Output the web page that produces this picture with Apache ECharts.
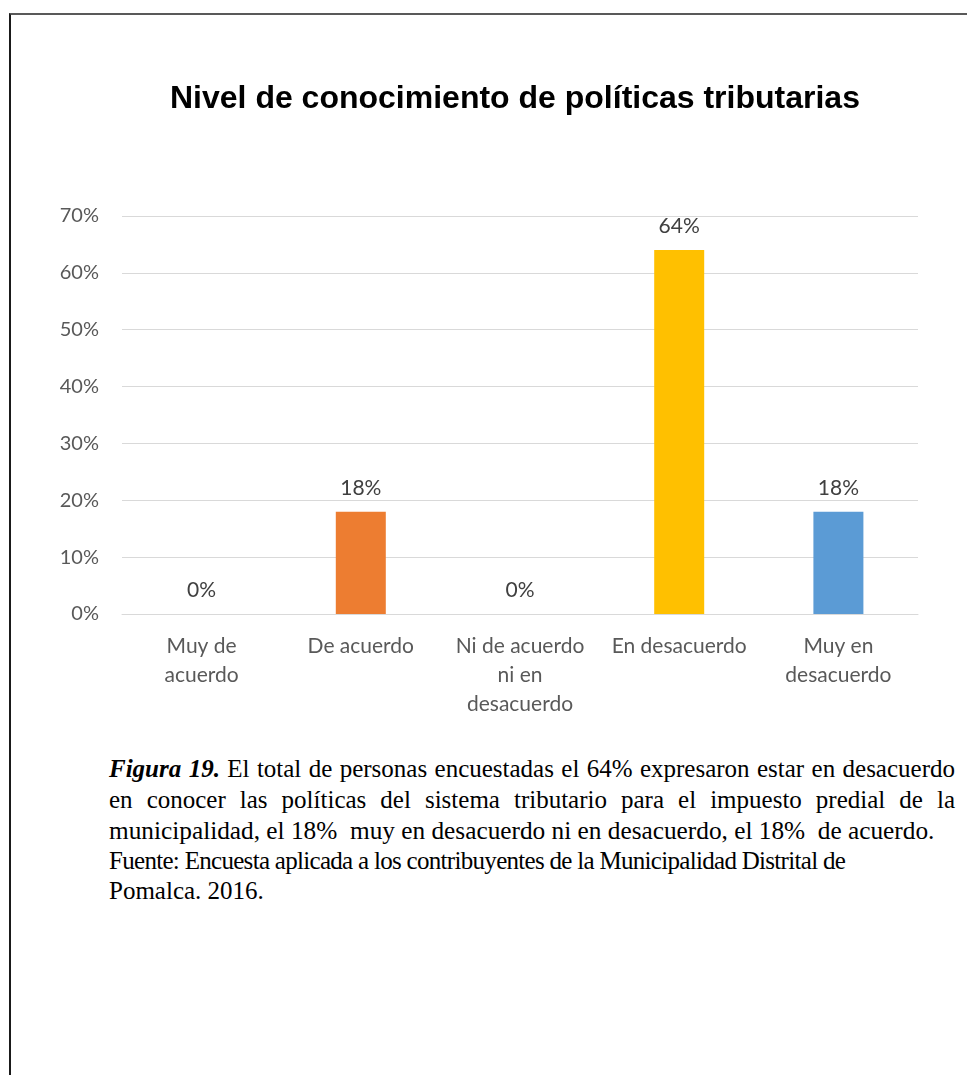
<!DOCTYPE html>
<html lang="es">
<head>
<meta charset="utf-8">
<title>Nivel de conocimiento de políticas tributarias</title>
<script src="https://cdn.jsdelivr.net/npm/echarts@6/dist/echarts.min.js"></script>
<style>
  html, body { margin: 0; padding: 0; background: #fff; }
  body { width: 967px; height: 1075px; position: relative; overflow: hidden; }
  #frame {
    position: absolute; left: 9px; top: 13px; width: 980px; height: 1100px;
    border-top: 2px solid #595959; border-left: 2px solid #1a1a1a;
  }
  #chart { position: absolute; left: 0; top: 0; width: 967px; height: 730px; }
  #caption {
    position: absolute; left: 109px; top: 754px; width: 846px;
    font-family: "Liberation Serif", "Times New Roman", serif;
    font-size: 25px; line-height: 30.5px; color: #000;
  }
  #caption .ln { white-space: nowrap; }
  #caption .just { text-align: justify; text-align-last: justify; }
  #caption .tight { letter-spacing: -0.7px; }
  #caption .l3 { font-size: 25.3px; }
</style>
</head>
<body>
<div id="frame"></div>
<div id="chart"></div>
<div id="caption">
  <div class="ln just"><b><i>Figura 19.</i></b> El total de personas encuestadas el 64% expresaron estar en desacuerdo</div>
  <div class="ln just">en conocer las políticas del sistema tributario para el impuesto predial de la</div>
  <div class="ln l3">municipalidad, el 18%&nbsp; muy en desacuerdo ni en desacuerdo, el 18%&nbsp; de acuerdo.</div>
  <div class="ln tight">Fuente: Encuesta aplicada a los contribuyentes de la Municipalidad Distrital de</div>
  <div class="ln">Pomalca. 2016.</div>
</div>
<script>
// Survey answers and their shares
const categories = [
  'Muy de\nacuerdo',
  'De acuerdo',
  'Ni de acuerdo\nni en\ndesacuerdo',
  'En desacuerdo',
  'Muy en\ndesacuerdo'
];
const shares = [0, 0.18, 0, 0.64, 0.18];
const barColors = ['#A5A5A5', '#ED7D31', '#A5A5A5', '#FFC000', '#5B9BD5'];
const yTicks = { min: 0, max: 0.7, interval: 0.1 };

const labelFont = 'Lato, "Open Sans", sans-serif';
const chart = echarts.init(document.getElementById('chart'), null, { renderer: 'canvas' });

chart.setOption({
  animation: false,
  backgroundColor: 'transparent',
  title: {
    text: 'Nivel de conocimiento de políticas tributarias',
    left: 165,
    top: 78,
    textStyle: {
      fontFamily: '"Liberation Sans", Arial, sans-serif',
      fontWeight: 'bold',
      fontSize: 32,
      color: '#000'
    }
  },
  grid: { left: 122, right: 49, top: 216, height: 398, containLabel: false },
  xAxis: {
    type: 'category',
    data: categories,
    axisLine: { show: true, lineStyle: { color: '#D9D9D9', width: 1 } },
    axisTick: { show: false },
    axisLabel: {
      interval: 0,
      margin: 18,
      color: '#595959',
      fontFamily: labelFont,
      fontSize: 21,
      lineHeight: 29
    }
  },
  yAxis: {
    type: 'value',
    min: yTicks.min,
    max: yTicks.max,
    interval: yTicks.interval,
    axisLine: { show: false },
    axisTick: { show: false },
    splitLine: { lineStyle: { color: '#D9D9D9', width: 1 } },
    axisLabel: {
      margin: 23,
      color: '#595959',
      fontFamily: labelFont,
      fontSize: 20,
      formatter: v => Math.round(v * 100) + '%'
    }
  },
  series: [{
    type: 'bar',
    barWidth: 50,
    data: shares.map((v, i) => ({ value: v, itemStyle: { color: barColors[i] } })),
    label: {
      show: true,
      position: 'top',
      distance: 13,
      color: '#404040',
      fontFamily: labelFont,
      fontSize: 21,
      formatter: p => Math.round(p.value * 100) + '%'
    }
  }]
});
</script>
</body>
</html>
